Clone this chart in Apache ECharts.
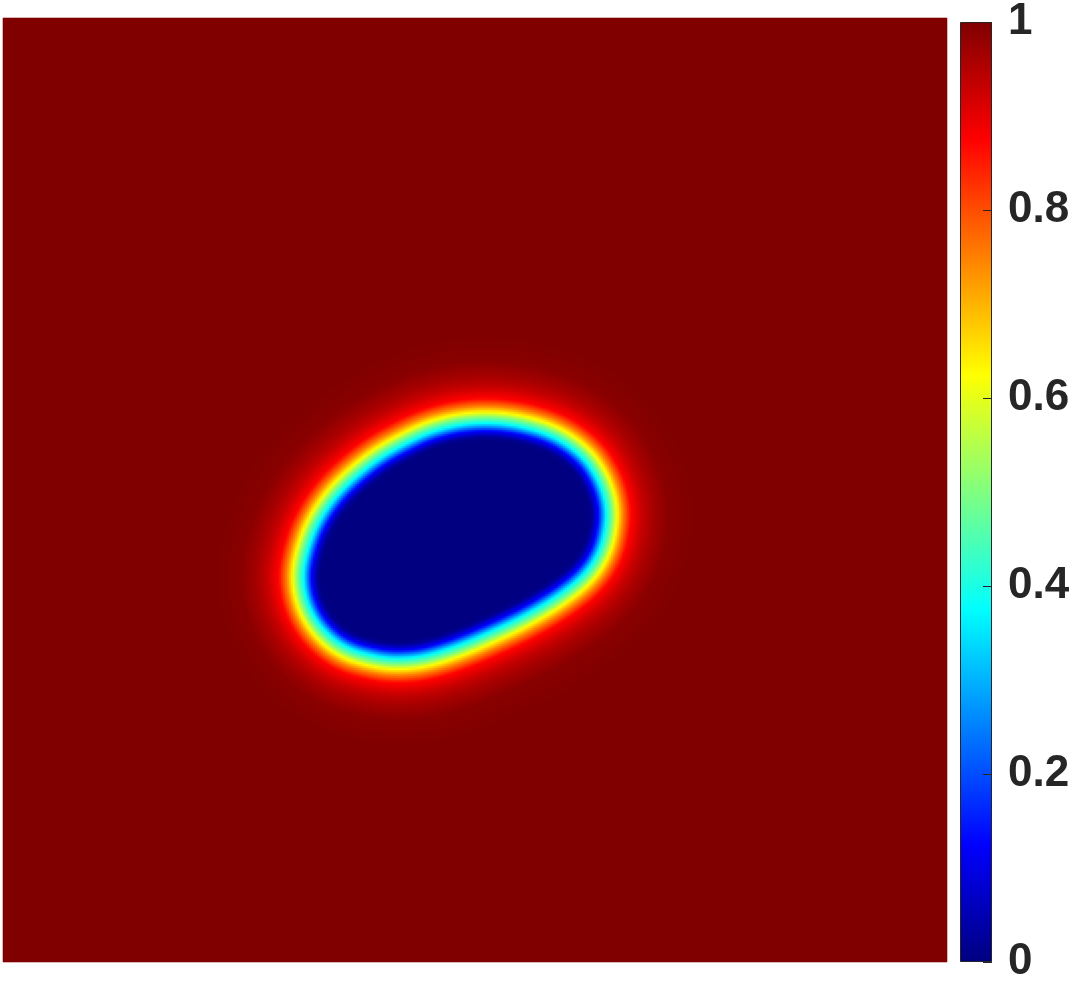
<!DOCTYPE html>
<html>
<head>
<meta charset="utf-8">
<script src="https://cdn.jsdelivr.net/npm/echarts@6/dist/echarts.min.js"></script>
<style>
  html, body { margin: 0; padding: 0; background: #fff; }
  #chart { width: 1075px; height: 985px; }
</style>
</head>
<body>
<div id="chart"></div>
<script>
// 0.5 level line of the phase field (domain 0..1, y up)
const contourX = [0.519, 0.555, 0.590, 0.619, 0.636, 0.645, 0.646, 0.639, 0.622, 0.592,
  0.555, 0.519, 0.484, 0.449, 0.421, 0.396, 0.360, 0.333, 0.317, 0.311,
  0.316, 0.327, 0.346, 0.370, 0.397, 0.426, 0.452, 0.484];
const contourY = [0.578, 0.573, 0.561, 0.540, 0.515, 0.489, 0.465, 0.434, 0.407, 0.383,
  0.361, 0.344, 0.329, 0.318, 0.315, 0.317, 0.327, 0.349, 0.376, 0.407,
  0.436, 0.466, 0.495, 0.519, 0.540, 0.556, 0.568, 0.576];

// phase value across the interface: signed distance from the line (outside +)
const profileDist = [-0.0254, -0.0212, -0.0148, -0.0064, 0, 0.0053, 0.0117, 0.0201, 0.0318, 0.0424, 0.0593, 0.0847];
const profileValue = [0, 0.02, 0.125, 0.375, 0.5, 0.625, 0.75, 0.875, 0.93, 0.96, 0.99, 1];

const colorbarTicks = [0, 0.2, 0.4, 0.6, 0.8, 1];
const jetColors = ['#000080', '#0000ff', '#0080ff', '#00ffff', '#80ff80', '#ffff00', '#ff8000', '#ff0000', '#800000'];

const gridSize = 472;

// round off the corners of the traced outline (Chaikin corner cutting)
function smoothOutline(xs, ys, passes) {
  let px = xs.slice(), py = ys.slice();
  for (let p = 0; p < passes; p++) {
    const nx = [], ny = [];
    const n = px.length;
    for (let i = 0; i < n; i++) {
      const k = (i + 1) % n;
      nx.push(0.75 * px[i] + 0.25 * px[k], 0.25 * px[i] + 0.75 * px[k]);
      ny.push(0.75 * py[i] + 0.25 * py[k], 0.25 * py[i] + 0.75 * py[k]);
    }
    px = nx; py = ny;
  }
  return [px, py];
}

const [outlineX, outlineY] = smoothOutline(contourX, contourY, 3);

function signedDist(px, py) {
  const n = outlineX.length;
  let best = Infinity;
  let inside = false;
  for (let i = 0, j = n - 1; i < n; j = i++) {
    const ax = outlineX[j], ay = outlineY[j], bx = outlineX[i], by = outlineY[i];
    const dx = bx - ax, dy = by - ay;
    let t = ((px - ax) * dx + (py - ay) * dy) / (dx * dx + dy * dy);
    t = Math.max(0, Math.min(1, t));
    const ex = ax + t * dx - px, ey = ay + t * dy - py;
    best = Math.min(best, ex * ex + ey * ey);
    if ((ay > py) !== (by > py) && px < ax + (py - ay) * dx / dy) inside = !inside;
  }
  const d = Math.sqrt(best);
  return inside ? -d : d;
}

function phaseAt(d) {
  if (d <= profileDist[0]) return profileValue[0];
  for (let k = 1; k < profileDist.length; k++) {
    if (d <= profileDist[k]) {
      const f = (d - profileDist[k - 1]) / (profileDist[k] - profileDist[k - 1]);
      return profileValue[k - 1] + f * (profileValue[k] - profileValue[k - 1]);
    }
  }
  return profileValue[profileValue.length - 1];
}

const cells = [];
const axisCats = [];
for (let i = 0; i < gridSize; i++) axisCats.push(i);
for (let i = 0; i < gridSize; i++) {
  const x = (i + 0.5) / gridSize;
  for (let j = 0; j < gridSize; j++) {
    const y = (j + 0.5) / gridSize;
    cells.push([i, j, phaseAt(signedDist(x, y))]);
  }
}

const chart = echarts.init(document.getElementById('chart'));

const labelFont = "'Liberation Sans', Arial, Helvetica, sans-serif";

chart.setOption({
  animation: false,
  backgroundColor: '#ffffff',
  grid: [
    { left: 3, top: 18, width: 944, height: 944 },
    { left: 960, top: 18, width: 32, height: 944 }
  ],
  xAxis: [
    { type: 'category', data: axisCats, show: false, gridIndex: 0 },
    { type: 'category', data: ['bar'], show: false, gridIndex: 1 }
  ],
  yAxis: [
    { type: 'category', data: axisCats, show: false, gridIndex: 0 },
    {
      type: 'value',
      gridIndex: 1,
      position: 'right',
      min: colorbarTicks[0],
      max: colorbarTicks[colorbarTicks.length - 1],
      interval: 0.2,
      z: 5,
      axisLine: { show: false },
      axisTick: { show: true, inside: true, length: 9, lineStyle: { color: '#262626', width: 1 } },
      splitLine: { show: false },
      axisLabel: {
        margin: 16,
        color: '#262626',
        fontSize: 44,
        fontWeight: 'bold',
        fontFamily: labelFont
      }
    }
  ],
  visualMap: {
    type: 'continuous',
    show: false,
    min: 0,
    max: 1,
    seriesIndex: 0,
    inRange: { color: jetColors }
  },
  series: [
    {
      type: 'heatmap',
      xAxisIndex: 0,
      yAxisIndex: 0,
      data: cells,
      progressive: 0,
      emphasis: { disabled: true },
      silent: true
    },
    {
      type: 'bar',
      xAxisIndex: 1,
      yAxisIndex: 1,
      data: [1],
      barWidth: '100%',
      silent: true,
      itemStyle: {
        borderColor: '#262626',
        borderWidth: 1,
        color: new echarts.graphic.LinearGradient(0, 1, 0, 0,
          jetColors.map((c, k) => ({ offset: k / (jetColors.length - 1), color: c })))
      }
    }
  ]
});
</script>
</body>
</html>
